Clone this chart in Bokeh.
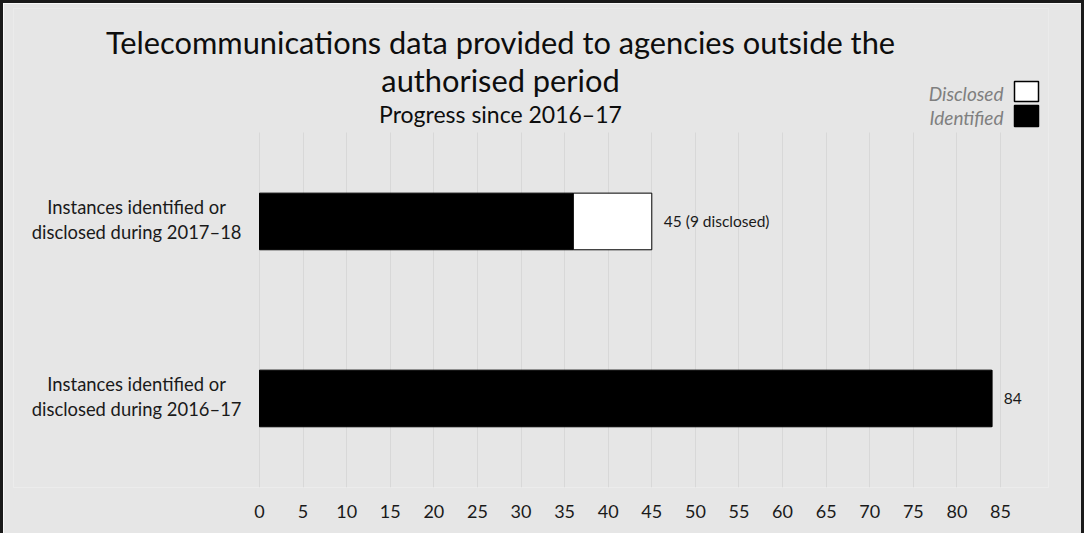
from bokeh.plotting import figure
from bokeh.models import ColumnDataSource, Range1d, FixedTicker, Label, BoxAnnotation
from bokeh.core.properties import value
from bokeh.embed import file_html
from bokeh.resources import INLINE

# ---- data ----
periods = ["2016–17", "2017–18"]
identified = [84, 36]
disclosed = [0, 9]
row_labels = ["Instances identified or\ndisclosed during 2016–17",
              "Instances identified or\ndisclosed during 2017–18"]
x_ticks = list(range(0, 90, 5))
title_lines = ["Telecommunications data provided to agencies outside the", "authorised period"]
subtitle = "Progress since 2016–17"
legend_names = ["Disclosed", "Identified"]

totals = [i + d for i, d in zip(identified, disclosed)]
value_labels = [f"{t} ({d} disclosed)" if d else f"{t}" for t, d in zip(totals, disclosed)]
row_pos = list(range(len(periods)))

src = ColumnDataSource(dict(pos=row_pos, identified=identified, disclosed=disclosed,
                            total=totals, vlabel=value_labels, rlabel=row_labels))

FONT = "Lato"
BG = "#e6e6e6"
BORDER = "3px solid #1a1a1a"

p = figure(width=1084, height=533, output_backend="svg", toolbar_location=None,
           x_range=Range1d(-28.219, 90.507), y_range=Range1d(-0.503, 2.203),
           min_border_left=10, min_border_right=39, min_border_top=5, min_border_bottom=49)
p.styles = {"border-top": BORDER, "border-left": BORDER, "border-right": BORDER}
p.background_fill_color = BG
p.border_fill_color = BG
p.outline_line_color = None

p.hbar(y="pos", left=0, right="identified", height=0.32, source=src,
       fill_color="black", line_color="black")
p.hbar(y="pos", left="identified", right="total", height=0.32, source=src,
       fill_color="white", line_color="black", line_width=1)

p.text(x="total", y="pos", text="vlabel", source=src, x_offset=12,
       text_font=value(FONT), text_font_size="15.5px", text_color="#1a1a1a",
       text_baseline="middle", text_align="left")

lab_x = [-14.1] * len(periods)
p.text(x=lab_x, y=row_pos, text=row_labels, y_offset=-2,
       text_font=value(FONT), text_font_size="18.4px", text_color="#1a1a1a",
       text_baseline="middle", text_align="center", text_line_height=1.12)

p.yaxis.visible = False
p.ygrid.grid_line_color = None
p.xgrid.grid_line_color = "#d8d8d8"
p.xgrid.grid_line_width = 1
p.xaxis.ticker = FixedTicker(ticks=x_ticks)
p.xaxis.axis_line_color = None
p.xaxis.major_tick_line_color = None
p.xaxis.minor_tick_line_color = None
p.xaxis.major_tick_out = 0
p.xaxis.major_label_standoff = 17
p.xaxis.major_label_text_font = FONT
p.xaxis.major_label_text_font_size = "18px"
p.xaxis.major_label_text_color = "#1a1a1a"

# keep the grid to the plotting band only (header area above it)
p.add_layout(BoxAnnotation(bottom=355, bottom_units="screen", fill_color=BG, fill_alpha=1,
                           line_color=None))

# titles (screen units relative to the frame: x from left, y from bottom)
for txt, y, size in [(title_lines[0], 445, "30.8px"), (title_lines[1], 407, "30.8px"), (subtitle, 374, "23px")]:
    p.add_layout(Label(x=487, y=y, x_units="screen", y_units="screen", text=txt,
                       text_font=FONT, text_font_size=size, text_color="#0d0d0d",
                       text_align="center", text_baseline="alphabetic"))

# legend
for txt, y in [(legend_names[0], 394), (legend_names[1], 370)]:
    p.add_layout(Label(x=990, y=y, x_units="screen", y_units="screen", text=txt,
                       text_font=FONT, text_font_size="19px", text_font_style="italic",
                       text_color="#7f7f7f", text_align="right", text_baseline="middle"))
p.add_layout(BoxAnnotation(left=1001, right=1025, bottom=386, top=406,
                           left_units="screen", right_units="screen", top_units="screen", bottom_units="screen",
                           fill_color="white", fill_alpha=1, line_color="black", line_width=1.5, line_alpha=1))
p.add_layout(BoxAnnotation(left=1001, right=1025, bottom=361, top=382,
                           left_units="screen", right_units="screen", top_units="screen", bottom_units="screen",
                           fill_color="black", fill_alpha=1, line_color="black", line_width=1.5, line_alpha=1))

open("out.html", "w").write(file_html(p, INLINE))
